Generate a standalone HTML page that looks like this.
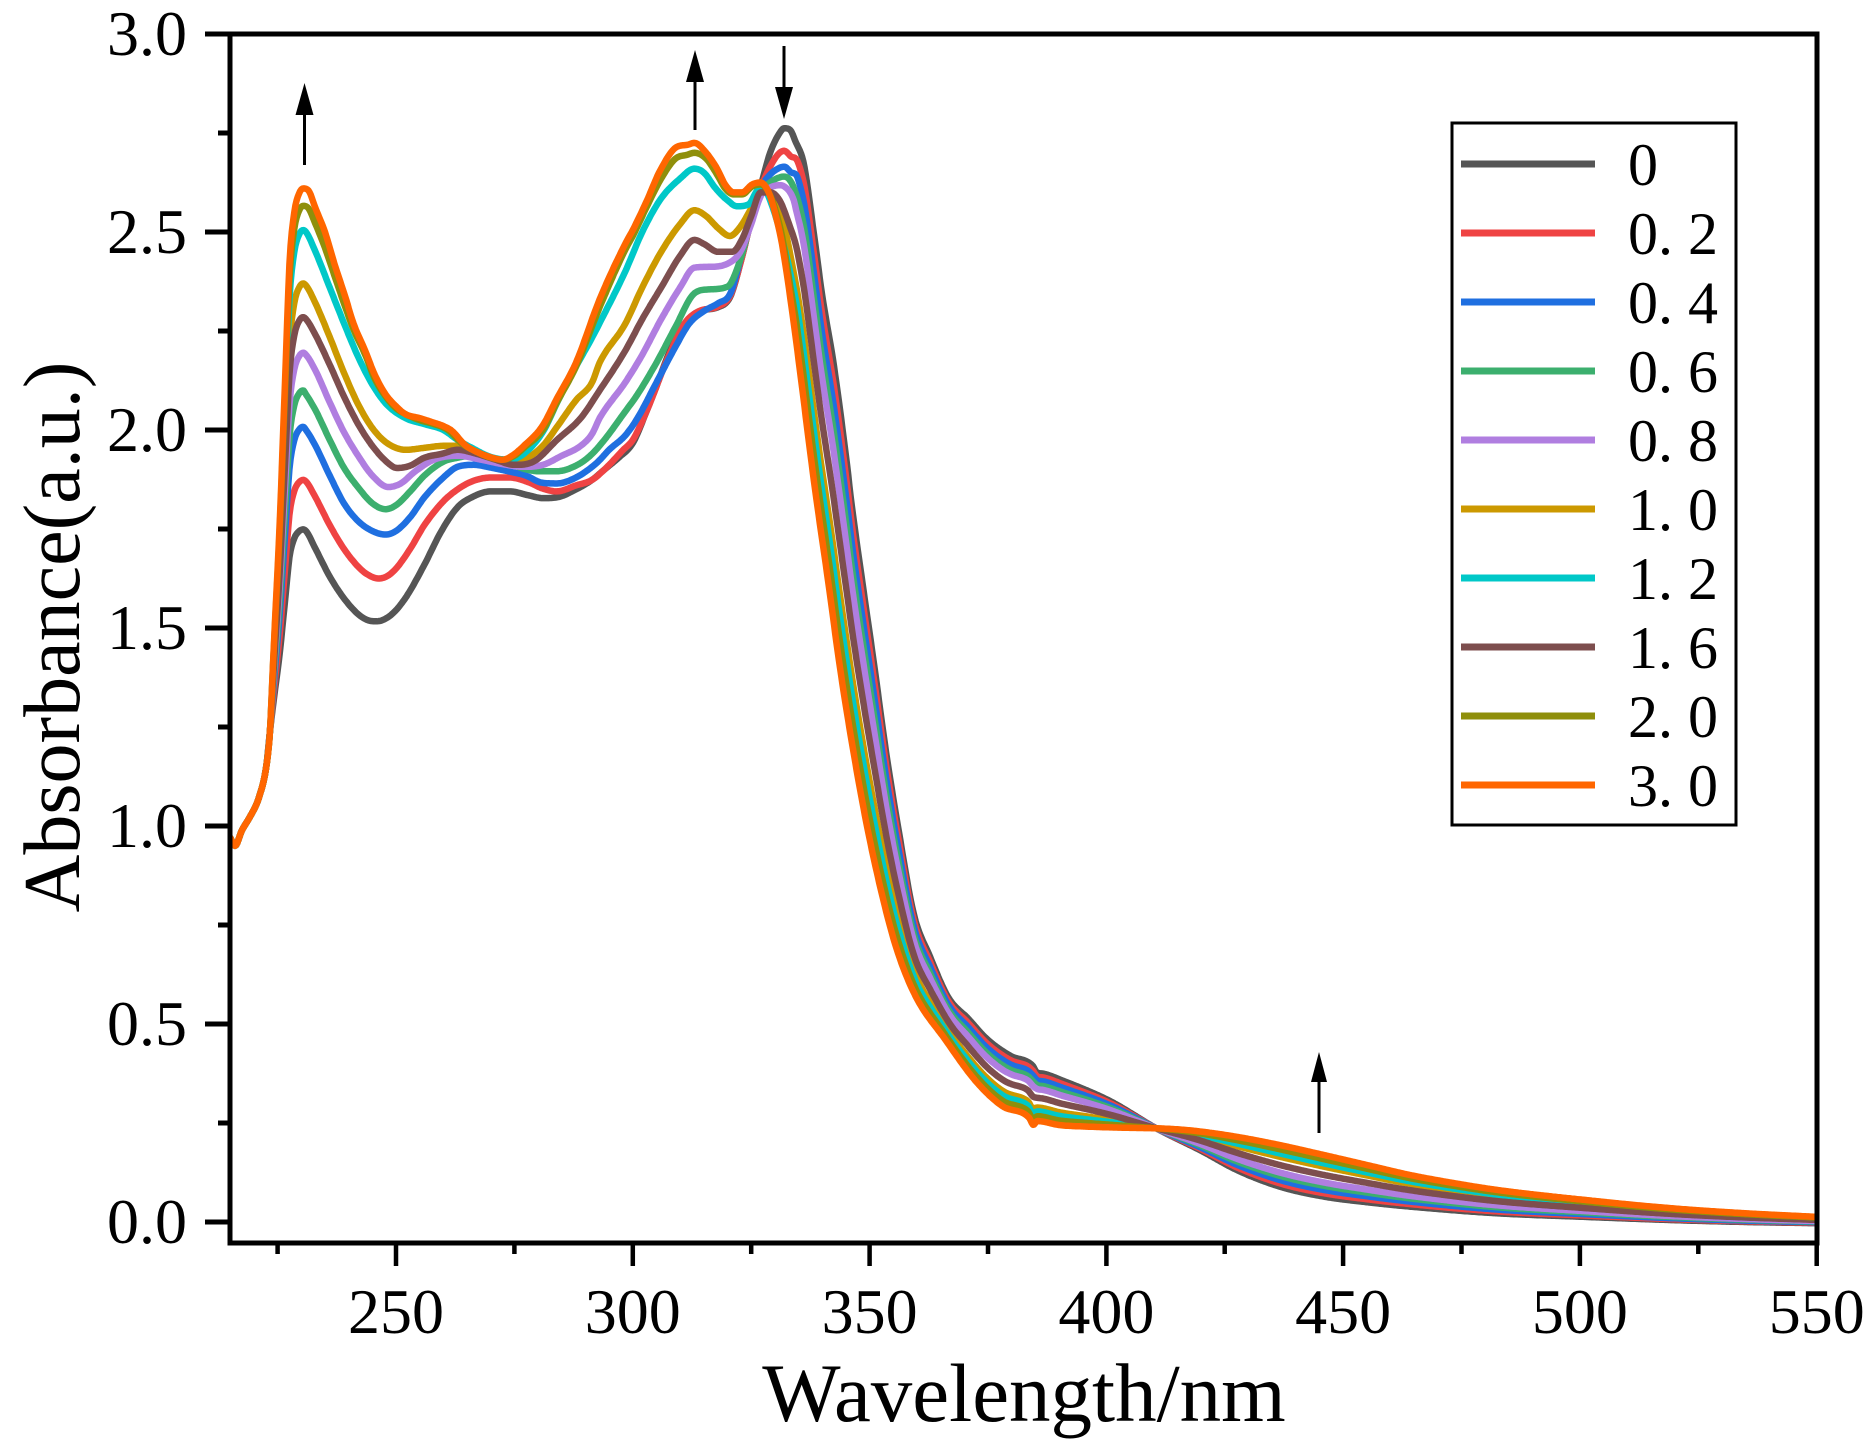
<!DOCTYPE html>
<html>
<head>
<meta charset="utf-8">
<style>
html,body{margin:0;padding:0;background:#fff;}
svg{display:block;}
text{font-family:"Liberation Serif","Times New Roman",serif;fill:#000;}
</style>
</head>
<body>
<svg id="chart" width="1874" height="1451" viewBox="0 0 1874 1451" xmlns="http://www.w3.org/2000/svg">
<rect width="1874" height="1451" fill="#fff"/>
<defs><clipPath id="clip"><rect x="230" y="34" width="1587" height="1209"/></clipPath></defs>
<g id="curves" clip-path="url(#clip)" fill="none" stroke-width="6.5" stroke-linejoin="round" stroke-linecap="round"></g>

<rect x="230" y="34" width="1587" height="1209" fill="none" stroke="#000" stroke-width="5"/>
<path d="M205 1222H230M205 1024H230M205 826H230M205 628H230M205 430H230M205 232H230M205 34H230" stroke="#000" stroke-width="5"/>
<path d="M218 1123H230M218 925H230M218 727H230M218 529H230M218 331H230M218 133H230" stroke="#000" stroke-width="5"/>
<path d="M396 1243V1266M632.8 1243V1266M869.6 1243V1266M1106.4 1243V1266M1343.1 1243V1266M1579.9 1243V1266M1816.7 1243V1266" stroke="#000" stroke-width="4.5"/>
<path d="M277.6 1243V1254M514.4 1243V1254M751.2 1243V1254M988 1243V1254M1224.7 1243V1254M1461.5 1243V1254M1698.3 1243V1254" stroke="#000" stroke-width="4.5"/>

<g font-size="64" text-anchor="end">
<text x="187" y="1243">0.0</text>
<text x="187" y="1045">0.5</text>
<text x="187" y="847">1.0</text>
<text x="187" y="649">1.5</text>
<text x="187" y="451">2.0</text>
<text x="187" y="253">2.5</text>
<text x="187" y="55">3.0</text>
</g>
<g font-size="64" text-anchor="middle">
<text x="396" y="1333">250</text>
<text x="632.8" y="1333">300</text>
<text x="869.6" y="1333">350</text>
<text x="1106.4" y="1333">400</text>
<text x="1343.1" y="1333">450</text>
<text x="1579.9" y="1333">500</text>
<text x="1816.7" y="1333">550</text>
</g>
<text x="1024" y="1421" font-size="83" text-anchor="middle">Wavelength/nm</text>
<text transform="translate(79,637) rotate(-90)" font-size="80" text-anchor="middle">Absorbance(a.u.)</text>

<!-- arrows -->
<g stroke="#000" stroke-width="3">
<line x1="304.5" y1="165" x2="304.5" y2="110"/>
<line x1="695" y1="130" x2="695" y2="78"/>
<line x1="784" y1="46" x2="784" y2="90"/>
<line x1="1319" y1="1133" x2="1319" y2="1078"/>
</g>
<g fill="#000">
<polygon points="304.5,83 295.5,115 313.5,115"/>
<polygon points="695,50 686,82 704,82"/>
<polygon points="784,119 775,87 793,87"/>
<polygon points="1319,1052 1311,1082 1327,1082"/>
</g>

<!-- legend -->
<rect x="1452" y="123" width="284" height="702" fill="#fff" stroke="#000" stroke-width="3"/>
<g stroke-width="7">
<line x1="1461" x2="1595" y1="164" y2="164" stroke="#555555"/>
<line x1="1461" x2="1595" y1="233" y2="233" stroke="#ef4343"/>
<line x1="1461" x2="1595" y1="302" y2="302" stroke="#1f6fe0"/>
<line x1="1461" x2="1595" y1="371" y2="371" stroke="#3caf6e"/>
<line x1="1461" x2="1595" y1="440" y2="440" stroke="#b07ee0"/>
<line x1="1461" x2="1595" y1="509" y2="509" stroke="#cc9900"/>
<line x1="1461" x2="1595" y1="578" y2="578" stroke="#00c8c8"/>
<line x1="1461" x2="1595" y1="647" y2="647" stroke="#7d4e4e"/>
<line x1="1461" x2="1595" y1="716" y2="716" stroke="#8f8f0b"/>
<line x1="1461" x2="1595" y1="785" y2="785" stroke="#ff6600"/>
</g>
<g font-size="60" style="white-space:pre" xml:space="preserve">
<text x="1628" y="185">0</text>
<text x="1628" y="254">0. 2</text>
<text x="1628" y="323">0. 4</text>
<text x="1628" y="392">0. 6</text>
<text x="1628" y="461">0. 8</text>
<text x="1628" y="530">1. 0</text>
<text x="1628" y="599">1. 2</text>
<text x="1628" y="668">1. 6</text>
<text x="1628" y="737">2. 0</text>
<text x="1628" y="806">3. 0</text>
</g>
</svg>
<script>
(function(){
var X=function(l){return 396+(l-250)*4.7357;};
var Y=function(v){return 1222-v*396;};
function mono(pts){
  var n=pts.length,xs=pts.map(function(p){return p[0];}),ys=pts.map(function(p){return p[1];});
  var d=[],m=new Array(n),i;
  for(i=0;i<n-1;i++)d.push((ys[i+1]-ys[i])/(xs[i+1]-xs[i]));
  m[0]=d[0];m[n-1]=d[n-2];
  for(i=1;i<n-1;i++)m[i]=(d[i-1]*d[i]<=0)?0:(d[i-1]+d[i])/2;
  for(i=0;i<n-1;i++){
    if(d[i]===0){m[i]=0;m[i+1]=0;continue;}
    var a=m[i]/d[i],b=m[i+1]/d[i],s=a*a+b*b;
    if(s>9){var t=3/Math.sqrt(s);m[i]=t*a*d[i];m[i+1]=t*b*d[i];}
  }
  return function(x){
    if(x<=xs[0])return ys[0];
    if(x>=xs[n-1])return ys[n-1];
    var lo=0,hi=n-1;
    while(hi-lo>1){var mid=(lo+hi)>>1;if(xs[mid]<=x)lo=mid;else hi=mid;}
    var h=xs[lo+1]-xs[lo],t=(x-xs[lo])/h,t2=t*t,t3=t2*t;
    return (2*t3-3*t2+1)*ys[lo]+(t3-2*t2+t)*h*m[lo]+(-2*t3+3*t2)*ys[lo+1]+(t3-t2)*h*m[lo+1];
  };
}
function edge(P){
  var b=1.24;
  return [[215,0.97],[216,0.95],[217.5,0.99],[219,1.02],[221,1.07],[222.6,1.15],[223.4,1.24],
    [224.0,b+0.12*(P-b)],[225.4,b+0.376*(P-b)],[226.5,b+0.628*(P-b)],[227.5,b+0.86*(P-b)],[228.5,b+0.955*(P-b)],[229.5,b+0.99*(P-b)],[230.4,P]];
}
var G=edge(1.749).concat([[231,1.745],[233,1.70],[236,1.63],[239,1.575],[242,1.535],[244,1.52],[246,1.517],[248,1.525],[250,1.545],[252.5,1.585],[256,1.66],[259.6,1.745],[263,1.805],[266,1.83],[270,1.845],[274,1.845],[278,1.835],[281,1.828],[284,1.83],[288,1.85],[291.4,1.874],[294,1.90],[297,1.93],[300,1.967],[303,2.05],[305,2.11],[307,2.175],[309,2.23],[311,2.27],[314,2.30],[318,2.31],[320.6,2.337],[322.7,2.42],[324.8,2.52],[327,2.615],[329,2.70],[331,2.75],[332,2.762],
[333.3,2.757],[334.3,2.73],[336.1,2.673],[338.2,2.50],[340,2.34],[342.4,2.168],[345.2,1.916],[346.1,1.823],[348.5,1.614],[351,1.404],[353.4,1.194],[356.2,0.985],[359.4,0.775],[362.7,0.672],[366.7,0.566],[370.8,0.514],[374.8,0.462],[379.7,0.42],[384.5,0.394],[385.3,0.378],[386.5,0.375],[391,0.356],[400.7,0.306],[410.8,0.235],[420,0.18],[427.6,0.131],[436.7,0.089],[446,0.064],[455,0.05],[464,0.039],[482.5,0.022],[500.8,0.013],[519,0.005],[535,0.0],[550,-0.003]]);
var O=edge(2.61).concat([[231.5,2.605],[233,2.56],[235,2.50],[237,2.42],[239.3,2.336],[241,2.27],[243.5,2.20],[245.5,2.14],[247.8,2.09],[250,2.06],[252,2.04],[255,2.03],[257.6,2.02],[260,2.01],[261.8,1.998],[264.6,1.962],[267,1.945],[270.3,1.93],[272.5,1.925],[274.5,1.935],[277,1.96],[280.8,2.008],[284,2.08],[288,2.17],[293,2.33],[298.4,2.47],[300,2.505],[303,2.58],[305.8,2.656],[309.3,2.715],[311.5,2.72],[313,2.725],[315.5,2.70],[317.8,2.66],[319.5,2.62],[321.3,2.60],[323.1,2.60],[325.2,2.62],[327,2.625],[328.7,2.60],[330,2.55],
[331.5,2.47],[333.3,2.33],[335.4,2.14],[337.5,1.94],[338.8,1.823],[341.3,1.614],[343.7,1.404],[346.5,1.194],[349.7,0.985],[353.7,0.775],[356.2,0.672],[359.9,0.566],[365.9,0.462],[372.4,0.356],[378,0.293],[383.7,0.263],[384.6,0.245],[385.4,0.255],[390,0.245],[395.8,0.241],[404,0.238],[412,0.236],[418,0.231],[427.6,0.215],[436.7,0.194],[446,0.169],[455,0.144],[464,0.119],[473,0.099],[482.5,0.081],[500.8,0.056],[519,0.035],[535,0.022],[550,0.013]]);
var Gf=mono(G),Of=mono(O);
function blendTail(f){
  var r=[],l;
  for(l=334.5;l<=420;l+=1)r.push([l,Gf(l)+f*(Of(l)-Gf(l))]);
  for(l=422;l<=550;l+=2)r.push([l,Gf(l)+f*(Of(l)-Gf(l))]);
  return r;
}
var mids={
 red:[1.874,0.08,[[231,1.87],[233,1.83],[236,1.76],[239,1.70],[242,1.655],[244,1.635],[246.3,1.625],[248,1.63],[250,1.65],[253,1.70],[256,1.76],[260,1.82],[263,1.85],[266,1.87],[270,1.88],[274,1.88],[278,1.868],[281,1.852],[284,1.845],[288,1.86],[291.4,1.874],[294,1.90],[298,1.95],[300,1.975],[303,2.05],[307,2.17],[311,2.27],[314,2.30],[318,2.312],[320.6,2.34],[322.7,2.42],[324.8,2.52],[327,2.61],[329,2.665],[331,2.70],[332,2.705],[333.5,2.69]]],
 blue:[2.008,0.16,[[231,2.0],[233,1.96],[236,1.885],[239,1.815],[242,1.77],[245,1.745],[247.8,1.736],[250,1.745],[253,1.78],[256,1.83],[260,1.88],[263,1.907],[266.5,1.912],[270,1.905],[274,1.895],[277.4,1.885],[280.8,1.867],[284,1.865],[288,1.88],[291.4,1.907],[293,1.924],[295,1.95],[298.4,1.986],[301,2.03],[305,2.12],[309,2.21],[312,2.27],[315,2.30],[318,2.32],[320.6,2.345],[322.7,2.43],[324.8,2.53],[327,2.61],[329,2.645],[331,2.662],[332,2.665],[333.5,2.65]]],
 green:[2.10,0.26,[[231,2.09],[233,2.05],[236,1.975],[239,1.905],[242,1.855],[245,1.815],[247.8,1.80],[250,1.81],[253,1.845],[256,1.885],[260,1.92],[263,1.93],[266,1.935],[270,1.93],[274,1.915],[277,1.902],[280,1.896],[284,1.896],[288,1.91],[291,1.935],[294,1.975],[298,2.04],[301,2.09],[305,2.17],[309,2.26],[313,2.345],[316,2.355],[320,2.362],[322.7,2.43],[324.8,2.52],[327,2.60],[329,2.625],[331,2.638],[332,2.64],[333.5,2.625]]],
 purple:[2.195,0.34,[[231,2.19],[233,2.15],[236,2.07],[239,1.995],[242,1.935],[245,1.885],[248.4,1.856],[251,1.865],[254,1.895],[258,1.925],[263,1.935],[268,1.925],[272,1.915],[277,1.907],[281,1.912],[285,1.935],[289,1.96],[291.4,1.99],[293,2.03],[298.4,2.12],[302,2.19],[306,2.28],[310,2.36],[313,2.41],[316,2.412],[320,2.42],[322.7,2.45],[325,2.52],[327,2.59],[329,2.612],[331,2.618],[332,2.615],[334,2.58]]],
 gold:[2.37,0.72,[[231,2.365],[233,2.32],[236,2.235],[239,2.145],[242,2.065],[245,2.005],[248,1.968],[252,1.95],[256,1.955],[260,1.96],[263,1.96],[267,1.945],[270,1.93],[274,1.918],[277,1.925],[281,1.96],[284,2.008],[288,2.075],[291.4,2.12],[293,2.17],[298.4,2.268],[302,2.36],[306,2.45],[310,2.52],[313,2.555],[315.5,2.54],[318,2.51],[320.5,2.49],[322.5,2.51],[325,2.56],[327,2.61],[329,2.60],[331,2.56]]],
 cyan:[2.505,0.80,[[231,2.50],[233,2.45],[236,2.36],[239,2.27],[242,2.185],[245,2.115],[248,2.065],[252,2.03],[256,2.015],[260,2.0],[263,1.975],[266,1.955],[270,1.932],[274,1.925],[277,1.94],[281,1.995],[284.3,2.076],[288,2.16],[291.4,2.233],[293,2.27],[298.4,2.40],[302,2.50],[306,2.585],[310,2.635],[313,2.66],[315,2.65],[317.5,2.61],[320,2.58],[322,2.565],[324.5,2.57],[326,2.60],[327,2.615],[329,2.58]]],
 brown:[2.285,0.52,[[231,2.28],[233,2.24],[236,2.165],[239,2.085],[242,2.015],[245,1.96],[248,1.92],[250.2,1.904],[253,1.91],[256,1.93],[259.7,1.94],[263,1.95],[267,1.94],[271,1.925],[275,1.912],[279,1.92],[284,1.975],[289,2.03],[293,2.10],[298.4,2.20],[302,2.28],[306,2.36],[310,2.44],[313,2.48],[315,2.47],[318,2.45],[321,2.45],[323,2.48],[325,2.54],[327,2.60],[329,2.60],[331,2.58],[333,2.52]]],
 olive:[2.566,0.90,[[231.5,2.56],[233,2.52],[235,2.46],[237,2.39],[239.3,2.31],[241,2.255],[243.5,2.19],[245.5,2.13],[247.8,2.085],[250,2.055],[252,2.04],[255,2.025],[258,2.015],[261,2.0],[264,1.965],[267,1.945],[270,1.93],[272.5,1.925],[275,1.935],[277,1.955],[281,2.0],[284,2.07],[288,2.16],[293,2.31],[298.4,2.455],[300,2.49],[303,2.565],[306,2.635],[309,2.685],[311.5,2.695],[313,2.70],[315.5,2.685],[317.8,2.645],[319.5,2.61],[321.3,2.595],[323.1,2.595],[325.2,2.615],[327,2.62],[328.7,2.60],[330,2.56],[331.5,2.49],[333.3,2.36]]]
};
function build(k){var s=mids[k];return edge(s[0]).concat(s[2]).concat(blendTail(s[1]));}
var series=[
 ["#555555",G],["#ef4343",build("red")],["#1f6fe0",build("blue")],["#3caf6e",build("green")],
 ["#b07ee0",build("purple")],["#cc9900",build("gold")],["#00c8c8",build("cyan")],
 ["#7d4e4e",build("brown")],["#8f8f0b",build("olive")],["#ff6600",O]
];
var g=document.getElementById("curves"),NS="http://www.w3.org/2000/svg";
series.forEach(function(s){
  var f=mono(s[1]),d="";
  for(var l=215;l<=550.001;l+=0.25){
    d+=(d?"L":"M")+X(l).toFixed(1)+" "+Y(f(l)).toFixed(1);
  }
  var p=document.createElementNS(NS,"path");
  p.setAttribute("d",d);p.setAttribute("stroke",s[0]);
  g.appendChild(p);
});
})();
</script>
</body>
</html>
